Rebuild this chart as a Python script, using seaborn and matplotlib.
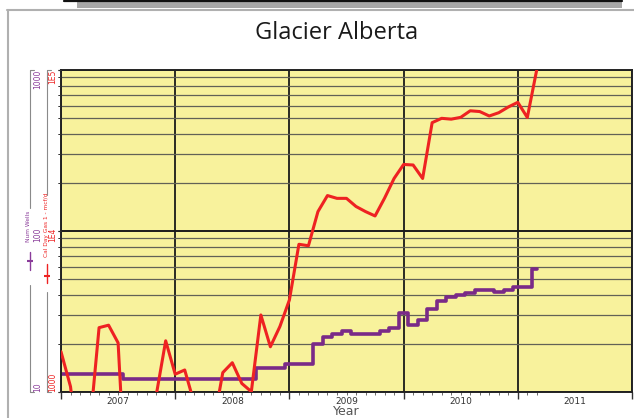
import numpy as np
import pandas as pd
import matplotlib
matplotlib.use("Agg")
import matplotlib.pyplot as plt
from matplotlib.lines import Line2D
from matplotlib.patches import Rectangle
from matplotlib.ticker import LogLocator, NullFormatter, FixedLocator
import seaborn as sns

# monthly data, Jan 2007 .. Mar 2011
month_index = np.arange(51)
years = 2007 + month_index / 12.0

gas = [1780, 1080, 350, 580, 2510, 2600, 2020, 160, 300, 250, 950, 2080,
       1290, 1370, 850, 500, 620, 1320, 1520, 1130, 1005, 3010, 1910, 2550,
       3730, 8270, 8100, 13200, 16600, 15950, 15950, 14200, 13200, 12400, 16000, 21200,
       25900, 25700, 21200, 47100, 50100, 49500, 50800, 55800, 55200, 51800, 54300, 58900,
       63000, 50700, 101000]

wells = [13, 13, 13, 13, 13, 13, 13, 12, 12, 12, 12, 12,
         12, 12, 12, 12, 12, 12, 12, 12, 12, 14, 14, 14,
         15, 15, 15, 20, 22, 23, 24, 23, 23, 23, 24, 25,
         31, 26, 28, 33, 37, 39, 40, 41, 43, 43, 42, 43,
         45, 45, 58]

year_ticks = [2007, 2008, 2009, 2010, 2011, 2012]
year_labels = ['2007', '2008', '2009', '2010', '2011']
gas_ticks = [1000, 10000, 100000]
gas_labels = ['1000', '1E4', '1E5']
well_ticks = [10, 100, 1000]
well_labels = ['10', '100', '1000']

df = pd.DataFrame({'year': years, 'gas': gas, 'wells': wells})

YELLOW = '#f8f29c'
RED = '#ee2222'
PURPLE = '#7a2a88'
W, H = 634, 418


def fx(px):
    return px / W


def fy(py):
    return 1 - py / H


sns.set_style("ticks")
plt.rcParams['font.family'] = ['DejaVu Sans']

fig = plt.figure(figsize=(6.34, 4.18), dpi=100)
ax = fig.add_axes([fx(61), fy(392), (632 - 61) / W, (392 - 70) / H])
ax2 = ax.twinx()

# wells on the back axis, gas on top
sns.lineplot(data=df, x='year', y='wells', ax=ax, color=PURPLE, lw=2.6,
             drawstyle='steps-mid', estimator=None, sort=False)
sns.lineplot(data=df, x='year', y='gas', ax=ax2, color=RED, lw=2.2,
             estimator=None, sort=False)

ax.set_facecolor(YELLOW)
ax.set_xlim(2007, 2012)
ax.set_yscale('log')
ax.set_ylim(10, 1000)
ax2.set_yscale('log')
ax2.set_ylim(1000, 100000)

# y ticks, both on the left
ax2.yaxis.tick_left()
for a, ticks, labels, col, pad in [(ax, well_ticks, well_labels, '#8a3c9a', 11.5),
                                   (ax2, gas_ticks, gas_labels, RED, 0.8)]:
    a.set_yticks(ticks, labels)
    a.yaxis.set_minor_locator(LogLocator(base=10, subs=np.arange(2, 10)))
    a.yaxis.set_minor_formatter(NullFormatter())
    a.tick_params(axis='y', which='major', length=2, width=0.8, pad=pad,
                  labelsize=5.5, labelcolor=col, labelrotation=90, color='#333')
    a.tick_params(axis='y', which='minor', length=2, width=0.6, color='#333')
    tl = a.get_yticklabels()
    tl[0].set_va('bottom')
    tl[-1].set_va('top')
    a.set_ylabel('')

# grid
ax.grid(which='minor', axis='y', color='#626256', lw=0.9)
ax.grid(which='major', axis='y', color='#1a1a1a', lw=1.4)
ax.set_xticks(year_ticks)
ax.xaxis.set_minor_locator(FixedLocator(years))
ax.grid(which='major', axis='x', color='#1a1a1a', lw=1.3)
ax.tick_params(axis='x', which='major', length=5, width=1.0, color='#333', labelbottom=False)
ax.tick_params(axis='x', which='minor', length=2.5, width=0.6, color='#555')

sec = ax.secondary_xaxis('bottom')
sec.set_xticks([y + 0.5 for y in year_ticks[:-1]], year_labels)
sec.tick_params(length=0, pad=3.5, labelsize=6.5, labelcolor='#333')
for lab in sec.get_xticklabels():
    lab.set_fontfamily(['Liberation Sans Narrow', 'DejaVu Sans'])
sec.spines['bottom'].set_visible(False)

ax.set_xlabel('Year', fontsize=9, color='#555', labelpad=3.5)

for s in ax.spines.values():
    s.set_color('#222')
    s.set_linewidth(1.4)
for s in ax2.spines.values():
    s.set_visible(False)

# title
fig.text(fx(337), fy(33), 'Glacier Alberta', fontsize=17, color='#1a1a1a',
         ha='center', va='center', family=['Open Sans', 'DejaVu Sans'])

# left legend-like axis labels
fig.text(fx(29), fy(226), 'Num Wells', rotation=90, color='#8a3c9a',
         fontsize=4.2, ha='center', va='center')
fig.text(fx(46), fy(225), 'Cal Day Gas 1 - mcf/d', rotation=90, color=RED,
         fontsize=4.2, ha='center', va='center')
fig.add_artist(Line2D([fx(29.5)] * 2, [fy(252), fy(270)], color='#8a3c9a', lw=1.0))
fig.add_artist(Line2D([fx(29.5)], [fy(261)], color='#8a3c9a', marker='_', ms=5, mew=1.5))
fig.add_artist(Line2D([fx(46.5)] * 2, [fy(264), fy(283)], color=RED, lw=1.0))
fig.add_artist(Line2D([fx(46.5)], [fy(276)], color=RED, marker='_', ms=5, mew=1.5))

# bracket lines
for x0, segs in [(30, [(70, 208), (285, 392)]), (47, [(70, 195), (292, 392)])]:
    for (y0, y1) in segs:
        fig.add_artist(Line2D([fx(x0)] * 2, [fy(y0), fy(y1)], color='#8a8a8a', lw=0.8))
    fig.add_artist(Line2D([fx(x0), fx(x0 + 4)], [fy(70)] * 2, color='#8a8a8a', lw=0.8))
    fig.add_artist(Line2D([fx(x0), fx(x0 + 4)], [fy(392)] * 2, color='#8a8a8a', lw=0.8))

# page frame bits
fig.add_artist(Line2D([fx(8)] * 2, [fy(10), fy(418)], color='#b0b0b0', lw=1.5))
fig.add_artist(Line2D([fx(7), fx(634)], [fy(10)] * 2, color='#b0b0b0', lw=1.5))
fig.add_artist(Rectangle((fx(77), fy(8)), fx(622) - fx(77), fy(0) - fy(8),
                         transform=fig.transFigure, color='#a8a8a8', lw=0))
fig.add_artist(Line2D([fx(64), fx(622)], [fy(0.8)] * 2, color='#111', lw=1.6))

fig.savefig('out.png', dpi=100)
